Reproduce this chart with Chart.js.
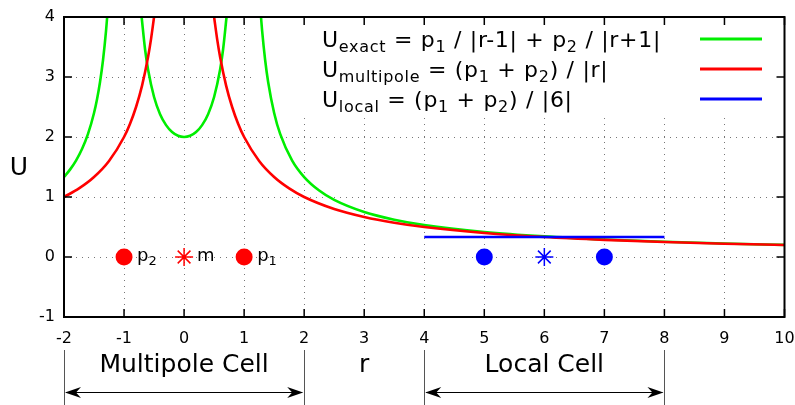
<!DOCTYPE html>
<html lang="en">
<head>
<meta charset="UTF-8">
<title>U exact vs multipole vs local</title>
<script src="https://cdn.jsdelivr.net/npm/chart.js"></script>
<style>
  * { margin: 0; padding: 0; }
  body { background: #fff; }
  #wrap { position: relative; width: 795px; height: 405px; }
</style>
</head>
<body>
<div id="wrap"><canvas id="chart" width="795" height="405"></canvas></div>
<script>
// axis ticks
const xTicks = [-2, -1, 0, 1, 2, 3, 4, 5, 6, 7, 8, 9, 10];
const yTicks = [-1, 0, 1, 2, 3, 4];

// U_exact (green), three branches between the poles at r = -1 and r = 1
const exactLeftR = [-2, -1.9, -1.8, -1.7, -1.6, -1.5, -1.45, -1.4, -1.35, -1.3, -1.281];
const exactLeftU = [1.333, 1.456, 1.607, 1.799, 2.051, 2.4, 2.63, 2.917, 3.283, 3.768, 4.0];
const exactMidR = [-0.707, -0.65, -0.6, -0.5, -0.4, -0.3, -0.2, -0.1, 0, 0.1, 0.2, 0.3, 0.4, 0.5, 0.6, 0.65, 0.707];
const exactMidU = [4.0, 3.463, 3.125, 2.667, 2.381, 2.198, 2.083, 2.02, 2.0, 2.02, 2.083, 2.198, 2.381, 2.667, 3.125, 3.463, 4.0];
const exactRightR = [1.281, 1.3, 1.35, 1.4, 1.5, 1.6, 1.8, 2, 2.25, 2.5, 3, 3.5, 4, 5, 6, 7, 8, 9, 10];
const exactRightU = [4.0, 3.768, 3.283, 2.917, 2.4, 2.051, 1.607, 1.333, 1.108, 0.952, 0.75, 0.622, 0.533, 0.417, 0.343, 0.292, 0.254, 0.225, 0.202];

// U_multipole (red), two branches around r = 0
const multiLeftR = [-2, -1.75, -1.5, -1.25, -1, -0.9, -0.8, -0.7, -0.6, -0.55, -0.5];
const multiLeftU = [1.0, 1.143, 1.333, 1.6, 2.0, 2.222, 2.5, 2.857, 3.333, 3.636, 4.0];
const multiRightR = [0.5, 0.55, 0.6, 0.7, 0.8, 0.9, 1, 1.25, 1.5, 1.75, 2, 2.5, 3, 3.5, 4, 5, 6, 7, 8, 9, 10];
const multiRightU = [4.0, 3.636, 3.333, 2.857, 2.5, 2.222, 2.0, 1.6, 1.333, 1.143, 1.0, 0.8, 0.667, 0.571, 0.5, 0.4, 0.333, 0.286, 0.25, 0.222, 0.2];

// U_local (blue), flat over the local cell
const localR = [4, 8];
const localU = [0.333, 0.333];

// charges and expansion centres, all on U = 0
const chargeR = [-1, 1];
const multipoleCentreR = [0];
const localChargeR = [5, 7];
const localCentreR = [6];

// cell spans drawn under the x axis
const multipoleCell = [-2, 2];
const localCell = [4, 8];

const GREEN = '#00ee00';
const RED = '#ff0000';
const BLUE = '#0000ff';
const FONT = "'DejaVu Sans', sans-serif";

function pts(xs, ys) {
    return xs.map((x, i) => ({ x: x, y: ys[i] }));
}

function curve(xs, ys, color, order) {
    return {
        data: pts(xs, ys),
        borderColor: color,
        borderWidth: 2.6,
        pointRadius: 0,
        cubicInterpolationMode: 'monotone',
        fill: false,
        order: order
    };
}

function marks(xs, color, style, radius) {
    return {
        data: xs.map(x => ({ x: x, y: 0 })),
        showLine: false,
        pointStyle: style,
        pointRadius: radius,
        pointBackgroundColor: color,
        pointBorderColor: color,
        pointBorderWidth: style === 'star' ? 1.5 : 0,
        order: 0
    };
}

// text with subscripts: parts = [[text, isSub], ...]
function drawRich(ctx, parts, x, y, size, subSize, drop) {
    ctx.textAlign = 'left';
    ctx.textBaseline = 'alphabetic';
    for (const [t, sub] of parts) {
        ctx.font = (sub ? subSize : size) + 'px ' + FONT;
        ctx.fillText(t, x, sub ? y + drop : y);
        x += ctx.measureText(t).width;
    }
    return x;
}

const legendRows = [
    { color: GREEN, parts: [['U', 0], ['exact', 1], [' = p', 0], ['1', 1], [' / |r-1| + p', 0], ['2', 1], [' / |r+1|', 0]] },
    { color: RED, parts: [['U', 0], ['multipole', 1], [' = (p', 0], ['1', 1], [' + p', 0], ['2', 1], [') / |r|', 0]] },
    { color: BLUE, parts: [['U', 0], ['local', 1], [' = (p', 0], ['1', 1], [' + p', 0], ['2', 1], [') / |6|', 0]] }
];

const pointLabels = [
    { r: -1, parts: [['p', 0], ['2', 1]] },
    { r: 0, parts: [['m', 0]] },
    { r: 1, parts: [['p', 0], ['1', 1]] }
];

const frame = {
    id: 'frame',
    beforeDatasetsDraw(chart) {
        const { ctx, chartArea: a, scales: { x, y } } = chart;
        ctx.save();
        // dotted grid
        ctx.strokeStyle = '#777';
        ctx.lineWidth = 1;
        ctx.setLineDash([1, 5]);
        xTicks.slice(1, -1).forEach(v => {
            const px = Math.round(x.getPixelForValue(v)) + 0.5;
            ctx.beginPath();
            ctx.moveTo(px, a.bottom);
            ctx.lineTo(px, a.top);
            ctx.stroke();
        });
        yTicks.slice(1, -1).forEach(v => {
            const py = Math.round(y.getPixelForValue(v)) + 0.5;
            ctx.beginPath();
            ctx.moveTo(a.left, py);
            ctx.lineTo(a.right, py);
            ctx.stroke();
        });
        ctx.setLineDash([]);
        // opaque key box
        ctx.fillStyle = '#fff';
        ctx.fillRect(253, a.top, a.right - 253, 115 - a.top);
        ctx.restore();
    },
    afterDatasetsDraw(chart) {
        const { ctx, chartArea: a, scales: { x, y } } = chart;
        ctx.save();
        // frame
        ctx.strokeStyle = '#000';
        ctx.lineWidth = 2;
        ctx.strokeRect(a.left, a.top, a.right - a.left, a.bottom - a.top);
        // inward ticks on all four sides
        ctx.lineWidth = 1.5;
        const tl = 8;
        ctx.beginPath();
        xTicks.forEach(v => {
            const px = x.getPixelForValue(v);
            ctx.moveTo(px, a.bottom); ctx.lineTo(px, a.bottom - tl);
            ctx.moveTo(px, a.top); ctx.lineTo(px, a.top + tl);
        });
        yTicks.forEach(v => {
            const py = y.getPixelForValue(v);
            ctx.moveTo(a.left, py); ctx.lineTo(a.left + tl, py);
            ctx.moveTo(a.right, py); ctx.lineTo(a.right - tl, py);
        });
        ctx.stroke();

        // key
        ctx.fillStyle = '#000';
        ctx.letterSpacing = '0.7px';
        legendRows.forEach((row, i) => {
            const base = 47 + i * 30;
            drawRich(ctx, row.parts, 322, base, 22, 16, 5);
            ctx.strokeStyle = row.color;
            ctx.lineWidth = 3;
            ctx.beginPath();
            ctx.moveTo(700, base - 8);
            ctx.lineTo(762, base - 8);
            ctx.stroke();
        });
        ctx.letterSpacing = '0px';

        // labels next to the charges
        const y0 = y.getPixelForValue(0);
        pointLabels.forEach(l => {
            drawRich(ctx, l.parts, x.getPixelForValue(l.r) + 13, y0 + 4, 18, 13, 4);
        });

        // axis titles
        ctx.font = '25px ' + FONT;
        ctx.textAlign = 'center';
        ctx.textBaseline = 'alphabetic';
        ctx.fillText('U', 19, 175);
        ctx.fillText('r', x.getPixelForValue(3), 372);
        ctx.fillText('Multipole Cell', x.getPixelForValue((multipoleCell[0] + multipoleCell[1]) / 2), 372);
        ctx.fillText('Local Cell', x.getPixelForValue((localCell[0] + localCell[1]) / 2), 372);

        // cell brackets with double arrows
        [multipoleCell, localCell].forEach(cell => {
            const x1 = x.getPixelForValue(cell[0]);
            const x2 = x.getPixelForValue(cell[1]);
            ctx.strokeStyle = '#555';
            ctx.lineWidth = 1;
            ctx.beginPath();
            ctx.moveTo(Math.round(x1) + 0.5, 350); ctx.lineTo(Math.round(x1) + 0.5, 405);
            ctx.moveTo(Math.round(x2) + 0.5, 350); ctx.lineTo(Math.round(x2) + 0.5, 405);
            ctx.stroke();
            ctx.strokeStyle = '#000';
            ctx.lineWidth = 1.2;
            ctx.beginPath();
            ctx.moveTo(x1 + 2, 392.5); ctx.lineTo(x2 - 2, 392.5);
            ctx.stroke();
            ctx.fillStyle = '#000';
            [[x1 + 1, 1], [x2 - 1, -1]].forEach(([tip, d]) => {
                ctx.beginPath();
                ctx.moveTo(tip, 392.5);
                ctx.lineTo(tip + d * 16, 387);
                ctx.lineTo(tip + d * 11, 392.5);
                ctx.lineTo(tip + d * 16, 398);
                ctx.closePath();
                ctx.fill();
            });
        });
        ctx.restore();
    }
};

new Chart(document.getElementById('chart'), {
    type: 'line',
    data: {
        datasets: [
            curve(exactLeftR, exactLeftU, GREEN, 3),
            curve(exactMidR, exactMidU, GREEN, 3),
            curve(exactRightR, exactRightU, GREEN, 3),
            curve(multiLeftR, multiLeftU, RED, 2),
            curve(multiRightR, multiRightU, RED, 2),
            Object.assign(curve(localR, localU, BLUE, 1), { cubicInterpolationMode: 'default', tension: 0 }),
            marks(chargeR, RED, 'circle', 8.5),
            marks(multipoleCentreR, RED, 'star', 9),
            marks(localChargeR, BLUE, 'circle', 8.5),
            marks(localCentreR, BLUE, 'star', 9)
        ]
    },
    options: {
        responsive: false,
        animation: false,
        devicePixelRatio: 1,
        layout: { padding: { top: 17, right: 10, left: 0, bottom: 0 } },
        plugins: { legend: { display: false }, tooltip: { enabled: false } },
        scales: {
            x: {
                type: 'linear',
                min: -2,
                max: 10,
                afterBuildTicks: s => { s.ticks = xTicks.map(v => ({ value: v })); },
                afterFit: s => { s.height = 88; s.paddingLeft = 0; s.paddingRight = 0; },
                grid: { display: false, drawTicks: false },
                border: { display: false },
                ticks: { padding: 12, maxRotation: 0, autoSkip: false, color: '#000', font: { family: FONT, size: 16 } }
            },
            y: {
                type: 'linear',
                min: -1,
                max: 4,
                afterBuildTicks: s => { s.ticks = yTicks.map(v => ({ value: v })); },
                afterFit: s => { s.width = 64; s.paddingTop = 0; s.paddingBottom = 0; },
                grid: { display: false, drawTicks: false },
                border: { display: false },
                ticks: { padding: 9, autoSkip: false, color: '#000', font: { family: FONT, size: 16 } }
            }
        }
    },
    plugins: [frame]
});
</script>
</body>
</html>
